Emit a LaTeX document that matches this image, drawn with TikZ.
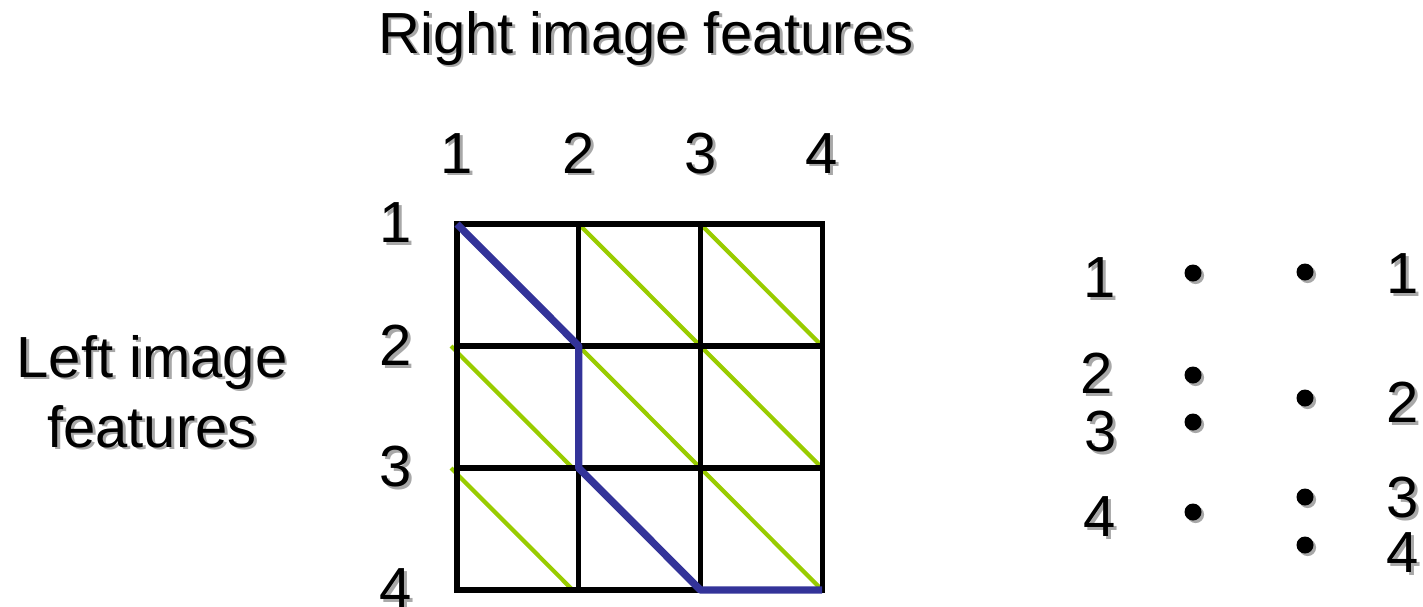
\documentclass[tikz,border=0pt]{standalone}
\usepackage{fontspec}
\setmainfont{Liberation Sans}
\usetikzlibrary{calc, shadows}
\definecolor{pathblue}{HTML}{333399}
\definecolor{diaggreen}{HTML}{99CC00}
\definecolor{shade}{HTML}{A8A8A8}

% text with a grey drop shadow
\newcommand\shlabel[4][]{%
  \node[lbl, text=shade, xshift=1.4pt, yshift=-1.4pt, #1] at (#3) {#4};
  \node[lbl, #1] (#2) at (#3) {#4};}

\begin{document}
\begin{tikzpicture}[x=0.5pt, y=-0.5pt,
      lbl/.style={inner sep=0pt, font=\fontsize{29}{35}\selectfont},
      grid line/.style={line width=2.6pt, black, line cap=rect},
      match/.style={line width=2.1pt, diaggreen},
      best/.style={line width=3.7pt, pathblue, line join=round},
      dot/.style={circle, fill=black, inner sep=0pt, minimum size=8.5pt,
        drop shadow={shadow xshift=1.3pt, shadow yshift=-1.3pt, fill=shade, opacity=1}}]
    \useasboundingbox (0,0) rectangle (1423,606);

    % grid points
    \foreach \i in {0,...,3}
      \foreach \j in {0,...,3}
        \coordinate (g\i\j) at ({457+121.7*\i},{224+122*\j});

    % possible matches
    \foreach \i/\j/\dx [evaluate=\i as \ni using int(\i+1),
                        evaluate=\j as \nj using int(\j+1)]
        in {0/1/-3pt, 0/2/-3pt, 1/0/0pt, 1/1/0pt, 2/0/0pt, 2/1/0pt, 2/2/0pt}
      \draw[match] ([xshift=\dx]g\i\j) -- ([xshift=\dx]g\ni\nj);

    \foreach \k in {0,...,3} {
      \draw[grid line] (g\k0) -- (g\k3);
      \draw[grid line] (g0\k) -- (g3\k);
    }

    % best path
    \draw[best] (g00) -- (g11) -- (g12) -- (g23) -- (g33);

    % labels
    \shlabel[anchor=base]{title}{646,53}{Right image features}
    \shlabel[anchor=base]{left1}{152,377}{Left image}
    \shlabel[anchor=base]{left2}{152,447}{features}
    \foreach \k [count=\n] in {0,...,3} {
      \shlabel[anchor=base]{col\n}{$(g\k0)+(0,-51)$}{\n}
      \shlabel{row\n}{$(g0\k)+(-61,-1)$}{\n}
    }

    % feature points
    \foreach \y [count=\n] in {273,375,422,512}
      \node[dot] (lp\n) at (1193,\y) {};
    \foreach \y [count=\n] in {272,398,497,545}
      \node[dot] (rp\n) at (1305,\y) {};
    \foreach \x/\y [count=\n] in {1100/278, 1097/373, 1101/432, 1100/517} {
      \shlabel{ln\n}{\x,\y}{\n}
    }
    \foreach \y [count=\n] in {274,402,498,553} {
      \shlabel{rn\n}{1403,\y}{\n}
    }
  \end{tikzpicture}
\end{document}
